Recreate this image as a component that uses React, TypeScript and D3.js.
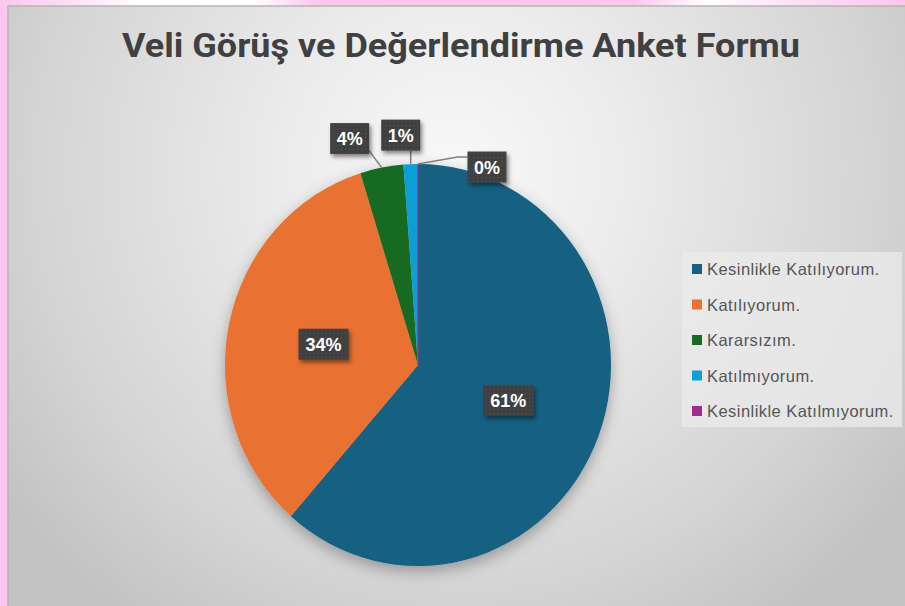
import React from "react";
import * as d3 from "d3";

const categories = [
  "Kesinlikle Katılıyorum.",
  "Katılıyorum.",
  "Kararsızım.",
  "Katılmıyorum.",
  "Kesinlikle Katılmıyorum.",
];
const values = [51, 28, 3, 1, 0];
const colors = ["#156082", "#E97132", "#196B24", "#0F9ED5", "#A02B93"];
const titleText = "Veli Görüş ve Değerlendirme Anket Formu";
// outside-label placement (dx, dy of box centre from slice edge point), null = inside
const labelOffsets: ([number, number] | null)[] = [null, null, [-32, -29], [-10, -29], [69, 3]];

const W = 905;
const H = 606;
const cx = 418;
const cy = 365;
const R = 193;
const yScale = 201 / 193;

export default function App() {
  const total = d3.sum(values);
  const pie = d3.pie<number>().sort(null).value((d) => d);
  const arcs = pie(values);
  const arc = d3.arc<d3.PieArcDatum<number>>().innerRadius(0).outerRadius(R);
  const pct = (v: number) => `${Math.round((v / total) * 100)}%`;

  const legendY = d3.scalePoint<string>().domain(categories).range([269, 411]);

  return (
    <svg
      width={W}
      height={H}
      style={{ position: "absolute", left: 0, top: 0 }}
      xmlns="http://www.w3.org/2000/svg"
    >
      <defs>
        <linearGradient id="pinkBg" x1="0" y1="0" x2="1" y2="0">
          <stop offset="0" stopColor="#fcc6ee" />
          <stop offset="0.08" stopColor="#fde0f5" />
          <stop offset="0.15" stopColor="#ffffff" />
          <stop offset="0.28" stopColor="#ffffff" />
          <stop offset="0.35" stopColor="#fcc6ee" />
          <stop offset="0.7" stopColor="#fcc6ee" />
          <stop offset="0.78" stopColor="#ffffff" />
          <stop offset="0.88" stopColor="#fde0f5" />
          <stop offset="1" stopColor="#fcc6ee" />
        </linearGradient>
        <radialGradient id="chartBg" gradientUnits="userSpaceOnUse" cx={455} cy={170} r={560}>
          <stop offset="0" stopColor="#f8f8f8" />
          <stop offset="0.3" stopColor="#ececec" />
          <stop offset="0.75" stopColor="#d4d4d4" />
          <stop offset="1" stopColor="#c2c2c2" />
        </radialGradient>
        <filter id="pieShadow" x="-20%" y="-20%" width="140%" height="140%">
          <feDropShadow dx="0" dy="5" stdDeviation="7" floodColor="#000" floodOpacity="0.3" />
        </filter>
        <filter id="boxShadow" x="-30%" y="-30%" width="160%" height="160%">
          <feDropShadow dx="2" dy="3" stdDeviation="2" floodColor="#000" floodOpacity="0.45" />
        </filter>
        <pattern id="dots" width="4" height="4" patternUnits="userSpaceOnUse">
          <rect width="4" height="4" fill="#3f3f3f" />
          <rect x="1" y="1" width="1" height="1" fill="#575757" />
        </pattern>
      </defs>

      <rect x={0} y={0} width={W} height={H} fill="#fcc6ee" />
      <rect x={0} y={0} width={W} height={7} fill="url(#pinkBg)" />
      <rect x={8} y={6} width={W} height={H} fill="url(#chartBg)" stroke="#b5b5b5" strokeWidth={1.5} />

      <text
        x={461}
        y={57}
        textAnchor="middle"
        fontFamily="Roboto, 'Liberation Sans', sans-serif"
        fontWeight={700}
        fontSize={33}
        fill="#404040"
        textLength={678}
        lengthAdjust="spacingAndGlyphs"
      >
        {titleText}
      </text>

      <g transform={`translate(${cx},${cy}) scale(1,${yScale})`}>
        <g filter="url(#pieShadow)">
          {arcs.map((a, i) => (
            <path
              key={i}
              d={arc(a) || ""}
              fill={colors[i]}
              stroke={a.value === 0 ? colors[i] : "none"}
              strokeWidth={a.value === 0 ? 1 : 0}
            />
          ))}
        </g>
      </g>

      {arcs.map((a, i) => {
        const off = labelOffsets[i];
        const label = pct(a.value);
        const bw = label.length === 2 ? 39 : 50;
        const bh = 31;
        let bx: number, by: number;
        let line: string | null = null;
        if (!off) {
          const [x, y] = arc.centroid(a);
          bx = cx + x;
          by = cy + y * yScale;
        } else {
          const mid = (a.startAngle + a.endAngle) / 2;
          const ex = cx + R * Math.sin(mid);
          const ey = cy - R * yScale * Math.cos(mid);
          bx = ex + off[0];
          by = ey + off[1];
          if (off[0] > 40) {
            line = `M${ex},${ey} L${bx - bw / 2 - 10},${by - 10} L${bx - bw / 2},${by - 10}`;
          } else if (Math.abs(off[0]) < 15) {
            line = `M${ex},${ey} L${ex},${by + bh / 2}`;
          } else {
            line = `M${ex},${ey} L${bx + bw / 2 - 2},${by + bh / 2 - 6}`;
          }
        }
        return (
          <g key={i}>
            {line && <path d={line} fill="none" stroke="#7f7f7f" strokeWidth={1.5} />}
            <rect
              x={bx - bw / 2}
              y={by - bh / 2}
              width={bw}
              height={bh}
              fill="url(#dots)"
              filter="url(#boxShadow)"
            />
            <text
              x={bx}
              y={by + 6.5}
              textAnchor="middle"
              fontFamily="'Liberation Sans', Arial, sans-serif"
              fontWeight={700}
              fontSize={18}
              fill="#ffffff"
            >
              {label}
            </text>
          </g>
        );
      })}

      <rect x={682} y={252} width={220} height={175} fill="#ebebeb" opacity={0.75} />
      {categories.map((c, i) => {
        const y = legendY(c) as number;
        return (
          <g key={c}>
            <rect x={692} y={y - 5} width={10} height={10} fill={colors[i]} />
            <text
              x={707}
              y={y + 6}
              fontFamily="'Liberation Sans', Arial, sans-serif"
              fontSize={16.5}
              letterSpacing={0.45}
              fill="#555555"
            >
              {c}
            </text>
          </g>
        );
      })}
    </svg>
  );
}
